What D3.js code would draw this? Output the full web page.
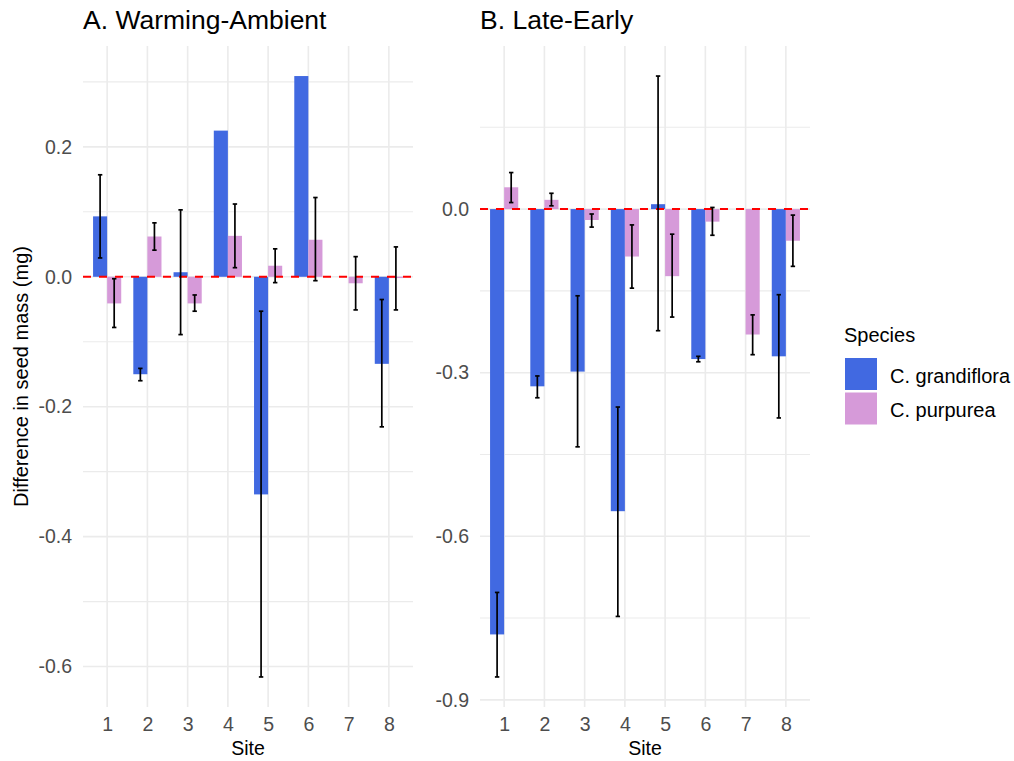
<!DOCTYPE html>
<html>
<head>
<meta charset="utf-8">
<script src="https://cdn.jsdelivr.net/npm/d3@7"></script>
<style>
  html, body { margin: 0; padding: 0; background: #fff; }
  svg { display: block; font-family: "Liberation Sans", Arial, Helvetica, sans-serif; }
</style>
</head>
<body>
<svg id="chart" width="1014" height="761"></svg>
<script>
// Sites and species
const sites = ["1", "2", "3", "4", "5", "6", "7", "8"];
const species = ["C. grandiflora", "C. purpurea"];
const speciesColors = ["#4169E1", "#D69AD9"];

// A. Warming-Ambient: mean difference and error bar limits (mg)
const warmGrand   = [0.093, -0.150, 0.007, 0.225, -0.335, 0.309, null, -0.134];
const warmGrandLo = [0.029, -0.160, -0.089, null, -0.616, null, null, -0.231];
const warmGrandHi = [0.157, -0.141, 0.103, null, -0.053, null, null, -0.035];
const warmPurp    = [-0.041, 0.062, -0.041, 0.063, 0.017, 0.057, -0.010, -0.002];
const warmPurpLo  = [-0.078, 0.041, -0.053, 0.014, -0.009, -0.006, -0.051, -0.051];
const warmPurpHi  = [-0.003, 0.083, -0.028, 0.112, 0.043, 0.122, 0.031, 0.046];

// B. Late-Early
const lateGrand   = [-0.780, -0.325, -0.298, -0.554, 0.009, -0.275, null, -0.270];
const lateGrandLo = [-0.858, -0.346, -0.436, -0.747, -0.223, -0.280, null, -0.383];
const lateGrandHi = [-0.703, -0.306, -0.159, -0.363, 0.244, -0.270, null, -0.157];
const latePurp    = [0.040, 0.017, -0.020, -0.087, -0.123, -0.023, -0.230, -0.058];
const latePurpLo  = [0.012, 0.006, -0.033, -0.145, -0.198, -0.048, -0.267, -0.105];
const latePurpHi  = [0.067, 0.029, -0.009, -0.029, -0.046, 0.003, -0.194, -0.011];

// Axis breaks
const warmMajor = [-0.6, -0.4, -0.2, 0.0, 0.2];
const warmMinor = [-0.5, -0.3, -0.1, 0.1, 0.3];
const lateMajor = [-0.9, -0.6, -0.3, 0.0];
const lateMinor = [-0.75, -0.45, -0.15, 0.15];

const svg = d3.select("#chart");
const plotTop = 46, plotBottom = 707;
const gridColor = "#EBEBEB";
const textGrey = "#4D4D4D";
const fmt = v => d3.format(".1f")(v).replace("\u2212", "-");

function rows(mean, lo, hi, sp) {
  return sites.map((s, i) => ({ site: s, sp, v: mean[i], lo: lo[i], hi: hi[i] }));
}

function panel(cfg) {
  const { x0, x1, title, data, major, minor } = cfg;
  const all = [0];
  data.forEach(d => { if (d.v != null) all.push(d.v); if (d.lo != null) all.push(d.lo, d.hi); });
  const [mn, mx] = d3.extent(all);
  const pad = (mx - mn) * 0.05;
  const y = d3.scaleLinear().domain([mn - pad, mx + pad]).range([plotBottom, plotTop]);
  const x = d3.scalePoint().domain(sites).range([x0, x1]).padding(0.6);
  const step = x.step();
  const dodge = d3.scaleBand().domain(species).range([-0.35 * step, 0.35 * step]);

  const g = svg.append("g");

  // grid
  g.selectAll(".minor").data(minor.filter(v => y(v) >= plotTop && y(v) <= plotBottom)).join("line")
    .attr("x1", x0).attr("x2", x1).attr("y1", d => y(d)).attr("y2", d => y(d))
    .attr("stroke", gridColor).attr("stroke-width", 1.1);
  g.selectAll(".major").data(major).join("line")
    .attr("x1", x0).attr("x2", x1).attr("y1", d => y(d)).attr("y2", d => y(d))
    .attr("stroke", gridColor).attr("stroke-width", 1.6);
  g.selectAll(".vgrid").data(sites).join("line")
    .attr("x1", d => x(d)).attr("x2", d => x(d)).attr("y1", plotTop).attr("y2", plotBottom)
    .attr("stroke", gridColor).attr("stroke-width", 1.6);

  // bars
  g.selectAll(".bar").data(data.filter(d => d.v != null)).join("rect")
    .attr("x", d => x(d.site) + dodge(d.sp))
    .attr("width", dodge.bandwidth())
    .attr("y", d => y(Math.max(0, d.v)))
    .attr("height", d => Math.abs(y(d.v) - y(0)))
    .attr("fill", d => speciesColors[species.indexOf(d.sp)]);

  // zero reference line
  g.append("line")
    .attr("x1", x0).attr("x2", x1).attr("y1", y(0)).attr("y2", y(0))
    .attr("stroke", "#FF0000").attr("stroke-width", 2).attr("stroke-dasharray", "8,8");

  // error bars
  const eb = data.filter(d => d.lo != null);
  const cap = 0.055 * step;
  const ebG = g.selectAll(".eb").data(eb).join("g")
    .attr("transform", d => `translate(${x(d.site) + dodge(d.sp) + dodge.bandwidth() / 2},0)`)
    .attr("stroke", "#000").attr("stroke-width", 1.7);
  ebG.append("line").attr("x1", 0).attr("x2", 0).attr("y1", d => y(d.lo)).attr("y2", d => y(d.hi));
  ebG.append("line").attr("x1", -cap).attr("x2", cap).attr("y1", d => y(d.lo)).attr("y2", d => y(d.lo));
  ebG.append("line").attr("x1", -cap).attr("x2", cap).attr("y1", d => y(d.hi)).attr("y2", d => y(d.hi));

  // y axis labels
  const yAxis = d3.axisLeft(y).tickValues(major).tickFormat(fmt).tickSize(0).tickPadding(11);
  const ya = g.append("g").attr("transform", `translate(${x0},0)`).call(yAxis);
  ya.select(".domain").remove();
  ya.selectAll("text").attr("fill", textGrey).style("font-size", "19.5px");
  ya.attr("font-family", null);

  // x axis labels
  const xAxis = d3.axisBottom(x).tickSize(0).tickPadding(10);
  const xa = g.append("g").attr("transform", `translate(0,${plotBottom})`).call(xAxis);
  xa.select(".domain").remove();
  xa.selectAll("text").attr("fill", textGrey).style("font-size", "19.5px");
  xa.attr("font-family", null);

  // axis title
  g.append("text").attr("x", (x0 + x1) / 2).attr("y", 755).attr("text-anchor", "middle")
    .style("font-size", "19.5px").attr("fill", "#000").text("Site");

  // panel title
  g.append("text").attr("x", x0).attr("y", 28.5)
    .style("font-size", "26.5px").attr("fill", "#000").text(title);
}

panel({
  x0: 83, x1: 413, title: "A. Warming-Ambient",
  data: rows(warmGrand, warmGrandLo, warmGrandHi, species[0]).concat(rows(warmPurp, warmPurpLo, warmPurpHi, species[1])),
  major: warmMajor, minor: warmMinor
});
panel({
  x0: 480, x1: 810, title: "B. Late-Early",
  data: rows(lateGrand, lateGrandLo, lateGrandHi, species[0]).concat(rows(latePurp, latePurpLo, latePurpHi, species[1])),
  major: lateMajor, minor: lateMinor
});

// shared y-axis title
svg.append("text")
  .attr("transform", `translate(28,${(plotTop + plotBottom) / 2}) rotate(-90)`)
  .attr("text-anchor", "middle").style("font-size", "20px").attr("fill", "#000")
  .text("Difference in seed mass (mg)");

// legend
const lg = svg.append("g").attr("transform", "translate(844,0)");
lg.append("text").attr("x", 0).attr("y", 341.5).style("font-size", "20px").attr("fill", "#000").text("Species");
species.forEach((s, i) => {
  lg.append("rect").attr("x", 1).attr("y", 358 + i * 34.5).attr("width", 32).attr("height", 32)
    .attr("fill", speciesColors[i]);
  lg.append("text").attr("x", 46).attr("y", 382.5 + i * 34.5).style("font-size", "20px")
    .attr("fill", "#000").text(s);
});
</script>
</body>
</html>
